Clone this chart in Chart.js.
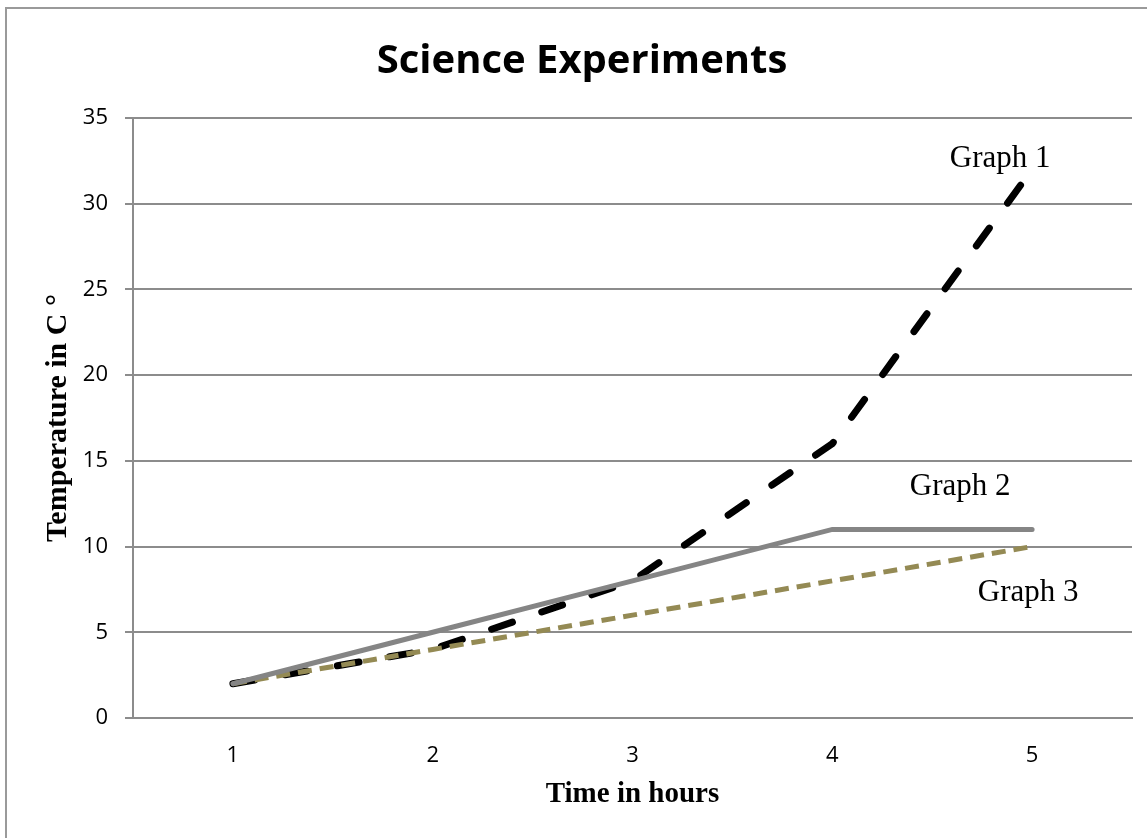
<!DOCTYPE html>
<html>
<head>
<meta charset="utf-8">
<script src="https://cdn.jsdelivr.net/npm/chart.js@4/dist/chart.umd.min.js"></script>
<style>
  html, body { margin: 0; padding: 0; background: #fff; overflow: hidden; }
  #frame { position: absolute; left: 5px; top: 7px; width: 1300px; height: 1000px; border: 2px solid #9a9a9a; }
  #wrap { position: absolute; left: 0; top: 0; width: 1147px; height: 838px; }
</style>
</head>
<body>
<div id="frame"></div>
<div id="wrap"><canvas id="chart" width="1147" height="838"></canvas></div>
<script>
// данные графика
const hours = ['1', '2', '3', '4', '5'];
const graph1 = [2, 4, 8, 16, 32];
const graph2 = [2, 5, 8, 11, 11];
const graph3 = [2, 4, 6, 8, 10];
const yTicks = [0, 5, 10, 15, 20, 25, 30, 35];

// подписи линий (позиция в координатах данных)
const lineLabels = ['Graph 1', 'Graph 2', 'Graph 3'];
const lineLabelX = [3.84, 3.64, 3.98];
const lineLabelY = [32.6, 13.5, 7.3];

const GRID = '#8c8c8c';

// плагин для подписей Graph 1/2/3
const lineLabelPlugin = {
    id: 'lineLabels',
    afterDatasetsDraw(chart) {
        let ctx = chart.ctx;
        let xs = chart.scales.x, ys = chart.scales.y;
        ctx.save();
        ctx.font = '31px "Liberation Serif", "DejaVu Serif", serif';
        ctx.fillStyle = '#000';
        ctx.textAlign = 'center';
        ctx.textBaseline = 'middle';
        lineLabels.forEach((t, i) => {
            ctx.fillText(t, xs.getPixelForValue(lineLabelX[i]), ys.getPixelForValue(lineLabelY[i]));
        });
        ctx.restore();
    }
};

let ctx = document.getElementById('chart');

let config = {
    type: 'line',
    data: {
        labels: hours,
        datasets: [
            {
                label: 'Graph 1',
                data: graph1,
                borderColor: '#000000',
                borderWidth: 7,
                borderDash: [22, 31],
                borderCapStyle: 'round',
                pointRadius: 0,
                order: 3,
            },
            {
                label: 'Graph 3',
                data: graph3,
                borderColor: '#948a54',
                borderWidth: 5,
                borderDash: [14, 8],
                pointRadius: 0,
                order: 2,
            },
            {
                label: 'Graph 2',
                data: graph2,
                borderColor: '#858585',
                borderWidth: 5,
                borderCapStyle: 'round',
                pointRadius: 0,
                order: 1,
            },
        ]
    },
    options: {
        responsive: false,
        animation: false,
        layout: { padding: { left: 32, right: 15, top: 0, bottom: 0 } },
        plugins: {
            legend: { display: false },
            tooltip: { enabled: false },
            title: {
                display: true,
                text: 'Science Experiments',
                color: '#000',
                font: { family: '"Open Sans", "Noto Sans", sans-serif', size: 40, weight: 'bold' },
                padding: { top: 38, bottom: 32 },
            }
        },
        scales: {
            x: {
                offset: true,
                grid: { display: false, drawTicks: false },
                border: { display: true, color: GRID, width: 2 },
                ticks: {
                    color: '#000',
                    padding: 25,
                    font: { family: '"Open Sans", "Noto Sans", sans-serif', size: 22 },
                },
                title: {
                    display: true,
                    text: 'Time in hours',
                    color: '#000',
                    font: { family: '"Liberation Serif", serif', size: 29, weight: 'bold' },
                    padding: { top: 0, bottom: 26 },
                },
                afterFit: (s) => { s.height = 120; },
            },
            y: {
                min: 0,
                max: 35,
                afterBuildTicks: (s) => { s.ticks = yTicks.map((v) => ({ value: v })); },
                grid: { color: GRID, lineWidth: 2, tickLength: 8 },
                border: { display: true, color: GRID, width: 2 },
                ticks: {
                    color: '#000',
                    padding: 17,
                    font: { family: '"Open Sans", "Noto Sans", sans-serif', size: 22 },
                },
                title: {
                    display: true,
                    text: 'Temperature in C °',
                    color: '#000',
                    font: { family: '"Liberation Serif", serif', size: 30, weight: 'bold' },
                    padding: { top: 8, bottom: 0 },
                },
                afterFit: (s) => { s.width = 101; },
            }
        }
    },
    plugins: [lineLabelPlugin],
};

const chartMain = new Chart(ctx, config);
</script>
</body>
</html>
